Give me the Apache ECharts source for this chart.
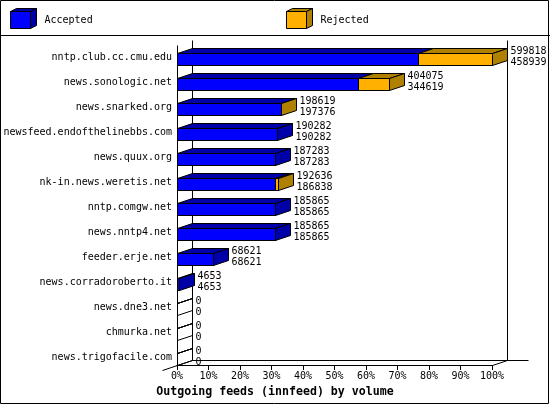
<!DOCTYPE html>
<html>
<head>
<meta charset="utf-8">
<script src="https://cdn.jsdelivr.net/npm/echarts@6/dist/echarts.min.js"></script>
<style>
html, body { margin: 0; padding: 0; background: #fff; }
#chart { width: 550px; height: 405px; }
</style>
</head>
<body>
<div id="chart"></div>
<script>
// innfeed: outgoing feeds by volume (offered / accepted articles)
const hosts = [
    'nntp.club.cc.cmu.edu', 'news.sonologic.net', 'news.snarked.org',
    'newsfeed.endofthelinebbs.com', 'news.quux.org', 'nk-in.news.weretis.net',
    'nntp.comgw.net', 'news.nntp4.net', 'feeder.erje.net',
    'news.corradoroberto.it', 'news.dne3.net', 'chmurka.net', 'news.trigofacile.com'
];
const offered = [599818, 404075, 198619, 190282, 187283, 192636, 185865, 185865, 68621, 4653, 0, 0, 0];
const accepted = [458939, 344619, 197376, 190282, 187283, 186838, 185865, 185865, 68621, 4653, 0, 0, 0];

const MONO = '"DejaVu Sans Mono", "Liberation Mono", monospace';
const DX = 15, DY = 5; // depth of the 3d look
const BLUE = '#0000ff', BLUE_DARK = '#0000a8';
const ORANGE = '#ffb000', ORANGE_DARK = '#b08000';

const maxOffered = Math.max(...offered);
const pct = v => v / maxOffered * 100;
const px = v => Math.round(v) + 0.5;

const edge = { stroke: '#000', lineWidth: 1 };

// one block of a bar: top face, front face, optionally the right side
// (sideFill 'none' for an empty bar, which only leaves its outline)
function block(xa, xb, top, bot, color, dark, sideFill) {
    const out = [
        { type: 'polygon', shape: { points: [[xa, top], [xa + DX, top - DY], [xb + DX, top - DY], [xb, top]] },
          style: Object.assign({ fill: dark }, edge) },
        { type: 'polygon', shape: { points: [[xa, top], [xb, top], [xb, bot], [xa, bot]] },
          style: Object.assign({ fill: color }, edge) }
    ];
    if (sideFill) {
        out.push({ type: 'polygon', shape: { points: [[xb, top], [xb + DX, top - DY], [xb + DX, bot - DY], [xb, bot]] },
                   style: Object.assign({ fill: sideFill }, edge) });
    }
    return out;
}

function rowTop(api, i) {
    return Math.round(api.coord([0, i])[1]) + 0.5;
}

function renderAccepted(params, api) {
    const i = api.value(1);
    const top = rowTop(api, i), bot = top + 12;
    const x0 = px(api.coord([0, i])[0]);
    const xa = px(api.coord([api.value(0), i])[0]);
    let side = null;
    if (api.value(2) === 0) side = api.value(0) > 0 ? BLUE_DARK : 'none';
    return { type: 'group', children: block(x0, xa, top, bot, BLUE, BLUE_DARK, side) };
}

function renderRejected(params, api) {
    const i = api.value(1);
    const top = rowTop(api, i), bot = top + 12;
    const xo = px(api.coord([api.value(0), i])[0]);
    const xa = px(api.coord([api.value(2), i])[0]);
    let children = [];
    if (api.value(3) > api.value(4)) {
        children = block(xa, xo, top, bot, ORANGE, ORANGE_DARK, ORANGE_DARK);
    }
    children.push({
        type: 'text',
        style: {
            x: xo + DX + 3, y: top + 3,
            text: api.value(3) + '\n' + api.value(4),
            fontFamily: MONO, fontSize: 10, lineHeight: 11,
            fill: '#000', verticalAlign: 'middle', align: 'left'
        }
    });
    return { type: 'group', children: children };
}

// walls and floor of the 3d box
function renderFrame(params, api) {
    const g = params.coordSys;
    const L = px(g.x), R = px(g.x + g.width), T = px(g.y), B = px(g.y + g.height);
    const line = (x1, y1, x2, y2) => ({ type: 'line', shape: { x1, y1, x2, y2 }, style: { stroke: '#000', lineWidth: 1 } });
    return {
        type: 'group',
        children: [
            line(L, T + DY, L, B),
            line(L + DX, T, L + DX, B - DY),
            line(R + DX, T, R + DX, B - DY),
            line(L + DX, B - DY, R + DX + 21, B - DY),
            line(R, B, R + DX, B - DY),
            line(L - DX, B + DY, L + DX, B - DY)
        ]
    };
}

const accData = hosts.map((h, i) => [pct(accepted[i]), i, offered[i] - accepted[i]]);
const rejData = hosts.map((h, i) => [pct(offered[i]), i, pct(accepted[i]), offered[i], accepted[i]]);

const chart = echarts.init(document.getElementById('chart'));

const legendBase = {
    orient: 'horizontal', top: 11, padding: 0,
    icon: 'rect', itemWidth: 20, itemHeight: 17,
    itemStyle: { borderColor: '#000', borderWidth: 1 },
    textStyle: { fontFamily: MONO, fontSize: 10, color: '#000', padding: [2, 0, 0, 9] },
    selectedMode: false
};

// darker top/side faces so the legend keys look like small cubes
function cubeFaces(x, y, dark) {
    const s = { stroke: '#000', lineWidth: 1, fill: dark };
    return [
        { type: 'polygon', z: 100, shape: { points: [[x, y], [x + 6, y - 3], [x + 26, y - 3], [x + 20, y]] }, style: s },
        { type: 'polygon', z: 100, shape: { points: [[x + 20, y], [x + 26, y - 3], [x + 26, y + 14], [x + 20, y + 17]] }, style: s }
    ];
}

const option = {
    backgroundColor: '#fff',
    animation: false,
    title: {
        text: 'Outgoing feeds (innfeed) by volume',
        left: 'center', top: 386, padding: 0,
        textStyle: { fontFamily: MONO, fontSize: 11.6, fontWeight: 'bold', color: '#000' }
    },
    legend: [
        Object.assign({ left: 10, data: ['Accepted'] }, legendBase),
        Object.assign({ left: 286, data: ['Rejected'] }, legendBase)
    ],
    graphic: [
        { type: 'rect', z: 100, shape: { x: 0.5, y: 0.5, width: 548, height: 403 }, style: { fill: 'none', stroke: '#000', lineWidth: 1 } },
        { type: 'line', z: 100, shape: { x1: 0, y1: 35.5, x2: 550, y2: 35.5 }, style: { stroke: '#000', lineWidth: 1 } }
    ].concat(cubeFaces(10.5, 11.5, BLUE_DARK), cubeFaces(286.5, 11.5, ORANGE_DARK)),
    grid: { left: 177, right: 58, top: 40, bottom: 40 },
    xAxis: {
        type: 'value', min: 0, max: 100, interval: 10,
        axisLine: { show: true, lineStyle: { color: '#000', width: 1 } },
        axisTick: { show: true, length: 5, lineStyle: { color: '#000' } },
        axisLabel: { formatter: '{value}%', fontFamily: MONO, fontSize: 10, color: '#000', margin: 6 },
        splitLine: { show: false }
    },
    yAxis: {
        type: 'category', data: hosts, inverse: true,
        axisLine: { show: false }, axisTick: { show: false },
        axisLabel: { interval: 0, fontFamily: MONO, fontSize: 10, color: '#000', margin: 5, verticalAlign: 'top' },
        splitLine: { show: false }
    },
    series: [
        { name: 'frame', type: 'custom', renderItem: renderFrame, data: [[0, 0]], silent: true },
        { name: 'Accepted', type: 'custom', renderItem: renderAccepted, data: accData,
          encode: { x: 0, y: 1 }, itemStyle: { color: BLUE } },
        { name: 'Rejected', type: 'custom', renderItem: renderRejected, data: rejData,
          encode: { x: 0, y: 1 }, itemStyle: { color: ORANGE } }
    ]
};

chart.setOption(option);
</script>
</body>
</html>
